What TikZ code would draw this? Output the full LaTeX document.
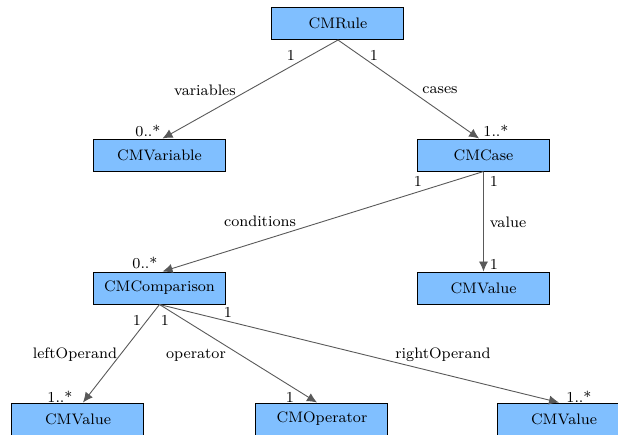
\documentclass[tikz,border=0pt]{standalone}
\usetikzlibrary{arrows.meta}
\definecolor{classblue}{RGB}{128,191,255}
\tikzset{
  classnode/.style = {shape=rectangle, draw=black, line width=0.5pt,
                      fill=classblue, inner sep=0pt,
                      minimum width=66pt, minimum height=16pt},
  mult/.style      = {inner sep=0pt},
  role/.style      = {inner sep=0pt},
  assoc/.style     = {draw=black!65, line width=0.45pt,
                      -{Latex[length=5pt,width=4.6pt]}}
}

\begin{document}
\begin{tikzpicture}
  [
    x                 = 0.5pt,
    y                 = -0.5pt,
    every node/.style = {font=\fontsize{7.6}{9}\selectfont}
  ]
 \useasboundingbox (0,0) rectangle (618,435);
 \node [classnode] (rule)       at (338,23.5)  {CMRule};
 \node [classnode] (variable)   at (159.5,155) {CMVariable};
 \node [classnode] (case)       at (483.5,155) {CMCase};
 \node [classnode] (casevalue)  at (483.5,288) {CMValue};
 \node [classnode] (comparison) at (159.5,288) {CMComparison};
 \node [classnode] (leftvalue)  at (78,419)    {CMValue};
 \node [classnode] (operator)   at (322,419)   {CMOperator};
 \node [classnode] (rightvalue) at (564,419)   {CMValue};

 % associations
 \draw [assoc] (rule.south) -- ([xshift=1.5pt]variable.north);
 \draw [assoc] (rule.south) -- ([xshift=-2.2pt]case.north);
 \draw [assoc] (case.south) -- ([xshift=1.5pt]comparison.north);
 \draw [assoc] (case.south) -- (casevalue.north);
 \draw [assoc] (comparison.south) -- ([xshift=2.5pt]leftvalue.north);
 \draw [assoc] (comparison.south) -- ([xshift=-2.5pt]operator.north);
 \draw [assoc] (comparison.south) -- ([xshift=-2.5pt]rightvalue.north);

 % roles
 \node [role] (variablesrole)  at (205,90)  {variables};
 \node [role] (casesrole)      at (440,90)  {cases};
 \node [role] (conditionsrole) at (260,221) {conditions};
 \node [role] (valuerole)      at (508,222) {value};
 \node [role] (leftrole)       at (75,355)  {leftOperand};
 \node [role] (operatorrole)   at (196,355) {operator};
 \node [role] (rightrole)      at (443,355) {rightOperand};

 % multiplicities
 \node [mult] (ruleleft)      at (291,55)  {1};
 \node [mult] (ruleright)     at (374,55)  {1};
 \node [mult] (variablemult)  at (148,131) {0..*};
 \node [mult] (casemult)      at (496,131) {1..*};
 \node [mult] (caseleft)      at (418,181) {1};
 \node [mult] (caseright)     at (494,181) {1};
 \node [mult] (valuemult)     at (494,264) {1};
 \node [mult] (comparemult)   at (145,263) {0..*};
 \node [mult] (compareleft)   at (137,320) {1};
 \node [mult] (comparemid)    at (165,320) {1};
 \node [mult] (compareright)  at (228,312) {1};
 \node [mult] (leftmult)      at (60,397)  {1..*};
 \node [mult] (operatormult)  at (290,397) {1};
 \node [mult] (rightmult)     at (579,397) {1..*};
\end{tikzpicture}
\end{document}
